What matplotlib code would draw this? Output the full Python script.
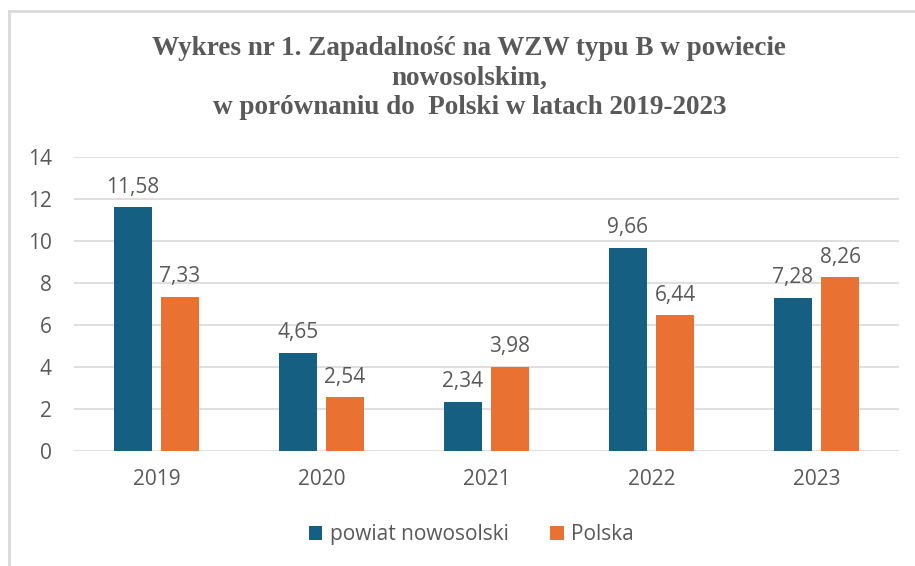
import matplotlib.pyplot as plt
import numpy as np
from matplotlib.lines import Line2D

years = ['2019', '2020', '2021', '2022', '2023']
powiat = [11.58, 4.65, 2.34, 9.66, 7.28]
polska = [7.33, 2.54, 3.98, 6.44, 8.26]

blue = '#156082'
orange = '#E97132'
txt = '#595959'

plt.rcParams['font.family'] = ['Open Sans', 'DejaVu Sans']

fig = plt.figure(figsize=(9.15, 5.66), dpi=100)
ax = fig.add_axes([0.0809, 0.2037, 0.9016, 0.5195])

x = np.arange(len(years))
w = 0.23
off = 0.1425
b1 = ax.bar(x - off, powiat, w, color=blue, label='powiat nowosolski')
b2 = ax.bar(x + off, polska, w, color=orange, label='Polska')

for bars, vals in ((b1, powiat), (b2, polska)):
    for r, v in zip(bars, vals):
        ax.annotate(f'{v:.2f}'.replace('.', ','), (r.get_x() + r.get_width() / 2, v),
                    xytext=(0, 7), textcoords='offset points', ha='center', va='bottom',
                    fontsize=15, color=txt)

ax.set_xlim(-0.5, 4.5)
ax.set_ylim(0, 14)
ax.set_yticks(range(0, 15, 2))
ax.set_xticks(x)
ax.set_xticklabels(years)
ax.tick_params(length=0, labelsize=15, labelcolor=txt)
ax.tick_params(axis='y', pad=16)
ax.tick_params(axis='x', pad=13)
ax.grid(axis='y', color='#D9D9D9', lw=1.2)
ax.set_axisbelow(True)
for s in ax.spines.values():
    s.set_visible(False)

fig.text(0.513, 0.862,
         'Wykres nr 1. Zapadalność na WZW typu B w powiecie\nnowosolskim,\nw porównaniu do  Polski w latach 2019-2023',
         ha='center', va='center', fontsize=19.5, fontweight='bold', color=txt,
         family='Liberation Serif', linespacing=1.22)

fig.legend(handles=[b1, b2], loc='center', bbox_to_anchor=(0.515, 0.055), ncol=2,
           frameon=False, fontsize=15, labelcolor=txt, handlelength=0.65, handleheight=0.65,
           handletextpad=0.35, columnspacing=2.0)

# chart frame
fig.add_artist(Line2D([9 / 915, 9 / 915], [0, 1 - 11 / 566], color='#D9D9D9', lw=2))
fig.add_artist(Line2D([9 / 915, 1], [1 - 11 / 566, 1 - 11 / 566], color='#D9D9D9', lw=2))

fig.savefig('out.png', dpi=100)
